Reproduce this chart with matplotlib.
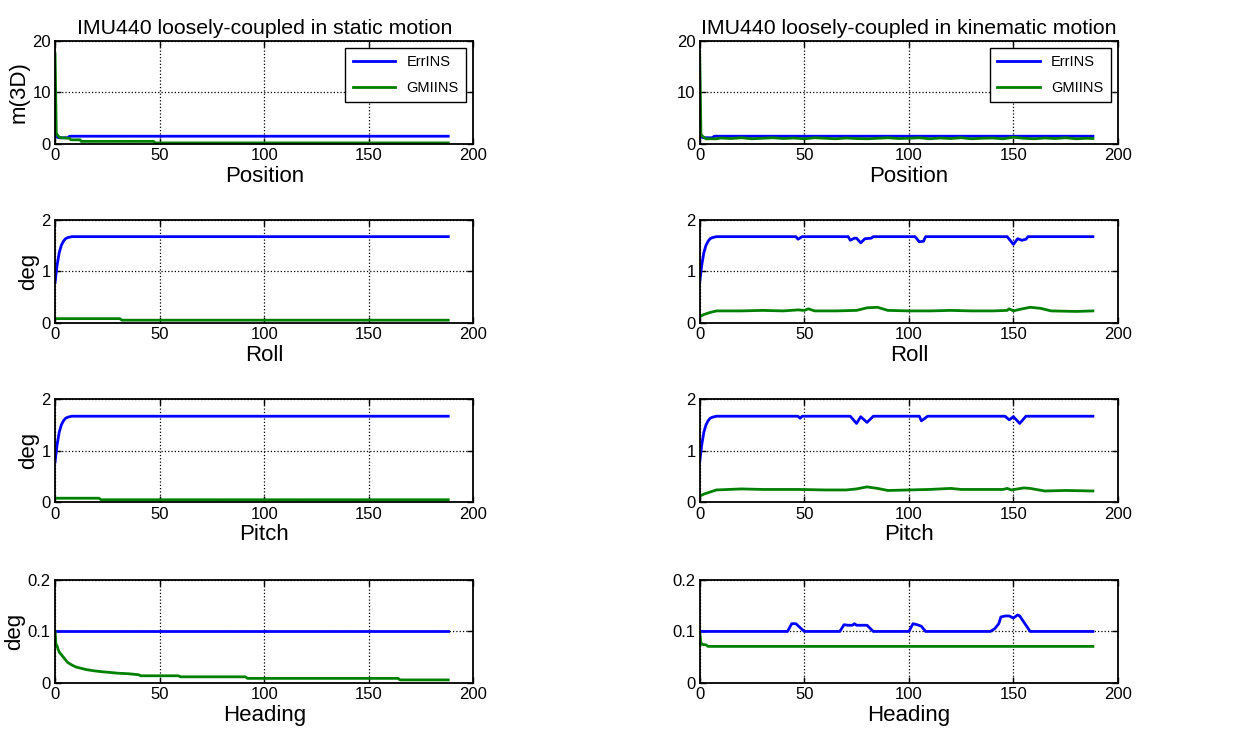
import numpy as np
import matplotlib
matplotlib.use('Agg')
import matplotlib.pyplot as plt

plt.rcParams['font.family'] = ['Liberation Sans', 'DejaVu Sans']

# ---- static motion ----
s_pos_x_err = [0, 0.5, 1, 2, 6, 7, 188]
s_pos_err = [1.5, 1.6, 1.3, 1.2, 1.2, 1.5, 1.5]
s_pos_x_gm = [0, 0.3, 0.6, 1, 2, 3, 7, 7.5, 12, 12.5, 47, 48, 188]
s_pos_gm = [17.5, 10, 2.2, 1.8, 1.3, 1.2, 1.1, 0.8, 0.8, 0.5, 0.5, 0.2, 0.2]

att_x_err = [0, 1, 2, 3, 4, 5, 6, 7, 8, 188]
s_roll_err = [0.78, 1.12, 1.36, 1.5, 1.58, 1.63, 1.65, 1.66, 1.67, 1.67]
s_roll_x_gm = [0, 31, 32, 188]
s_roll_gm = [0.08, 0.08, 0.05, 0.05]
s_pitch_err = [0.78, 1.12, 1.36, 1.5, 1.58, 1.63, 1.65, 1.66, 1.67, 1.67]
s_pitch_x_gm = [0, 21, 22, 188]
s_pitch_gm = [0.08, 0.08, 0.05, 0.05]

s_head_x_err = [0, 188]
s_head_err = [0.1, 0.1]
s_head_x_gm = [0, 0.5, 1, 1.5, 2, 3, 4, 5, 6, 8, 10, 12, 15, 18, 22, 25, 30,
               35, 40, 41, 59, 60, 91, 92, 164, 165, 188]
s_head_gm = [0.1, 0.072, 0.072, 0.065, 0.06, 0.055, 0.05, 0.045, 0.04, 0.035,
             0.031, 0.029, 0.026, 0.024, 0.022, 0.021, 0.019, 0.018, 0.016,
             0.014, 0.014, 0.012, 0.012, 0.009, 0.009, 0.006, 0.006]

# ---- kinematic motion ----
k_pos_x_err = [0, 0.5, 1, 2, 6, 7, 188]
k_pos_err = [1.5, 1.6, 1.3, 1.2, 1.2, 1.5, 1.5]
k_pos_x_gm = [0, 0.3, 0.6, 1, 2, 3, 8, 10, 15, 20, 25, 30, 35, 40, 45, 50, 55,
              60, 65, 70, 75, 80, 85, 90, 95, 100, 105, 110, 115, 120, 125, 130,
              135, 140, 145, 150, 155, 160, 165, 170, 175, 180, 185, 188]
k_pos_gm = [17.5, 10, 2.0, 1.6, 1.3, 1.0, 1.0, 1.15, 1.05, 1.2, 1.0, 1.1, 1.2,
            1.05, 1.15, 1.0, 1.2, 1.1, 1.0, 1.15, 1.05, 1.0, 1.1, 1.2, 1.05,
            1.1, 1.2, 1.0, 1.15, 1.05, 1.2, 1.0, 1.1, 1.15, 1.0, 1.3, 1.1, 1.0,
            1.15, 1.05, 1.2, 1.0, 1.1, 1.05]

k_roll_x_err = [0, 1, 2, 3, 4, 5, 6, 7, 8, 46, 47, 49, 71, 72, 74, 75, 77, 79,
                82, 83, 103, 105, 107, 108, 147, 150, 152, 154, 156, 157, 188]
k_roll_err = [0.78, 1.12, 1.36, 1.5, 1.58, 1.63, 1.65, 1.66, 1.67, 1.67, 1.62,
              1.67, 1.67, 1.6, 1.64, 1.64, 1.55, 1.63, 1.64, 1.67, 1.67, 1.57,
              1.58, 1.67, 1.67, 1.52, 1.63, 1.6, 1.62, 1.67, 1.67]
k_roll_x_gm = [0, 2, 5, 8, 20, 30, 40, 47, 50, 52, 55, 65, 75, 80, 85, 90, 100,
               110, 120, 130, 140, 147, 148, 150, 153, 158, 163, 168, 180, 188]
k_roll_gm = [0.12, 0.16, 0.2, 0.23, 0.23, 0.24, 0.23, 0.25, 0.24, 0.27, 0.23,
             0.23, 0.24, 0.29, 0.3, 0.24, 0.23, 0.23, 0.24, 0.23, 0.23, 0.24,
             0.27, 0.23, 0.26, 0.3, 0.28, 0.23, 0.22, 0.23]

k_pitch_x_err = [0, 1, 2, 3, 4, 5, 6, 7, 8, 47, 48, 49, 72, 75, 77, 80, 83,
                 105, 106, 109, 146, 148, 150, 153, 156, 188]
k_pitch_err = [0.78, 1.12, 1.36, 1.5, 1.58, 1.63, 1.65, 1.66, 1.67, 1.67, 1.63,
               1.67, 1.67, 1.53, 1.66, 1.55, 1.67, 1.67, 1.58, 1.67, 1.67, 1.6,
               1.66, 1.53, 1.67, 1.67]
k_pitch_x_gm = [0, 2, 5, 8, 20, 30, 47, 60, 70, 75, 80, 85, 90, 100, 110, 120,
                125, 135, 145, 147, 149, 155, 158, 165, 175, 188]
k_pitch_gm = [0.12, 0.16, 0.2, 0.24, 0.26, 0.25, 0.25, 0.24, 0.24, 0.26, 0.3,
              0.27, 0.23, 0.24, 0.25, 0.27, 0.25, 0.25, 0.25, 0.27, 0.24, 0.28,
              0.27, 0.22, 0.23, 0.22]

k_head_x_err = [0, 42, 44, 46, 50, 67, 69, 71, 73, 74, 75, 80, 83, 100, 102,
                104, 106, 108, 139, 141, 143, 144, 146, 148, 150, 152, 153, 155,
                158, 188]
k_head_err = [0.1, 0.1, 0.115, 0.115, 0.1, 0.1, 0.113, 0.112, 0.112, 0.115,
              0.112, 0.112, 0.1, 0.1, 0.115, 0.113, 0.11, 0.1, 0.1, 0.105,
              0.115, 0.128, 0.13, 0.13, 0.126, 0.132, 0.13, 0.118, 0.1, 0.1]
k_head_x_gm = [0, 0.5, 1, 3, 4, 188]
k_head_gm = [0.1, 0.08, 0.075, 0.074, 0.071, 0.071]

xlabels = ['Position', 'Roll', 'Pitch', 'Heading']
ylabels = ['m(3D)', 'deg', 'deg', 'deg']
yticks = [[0, 10, 20], [0, 1, 2], [0, 1, 2], [0, 0.1, 0.2]]
yticklabels = [['0', '10', '20'], ['0', '1', '2'], ['0', '1', '2'], ['0', '0.1', '0.2']]
titles = ['IMU440 loosely-coupled in static motion',
          'IMU440 loosely-coupled in kinematic motion']

static = [(s_pos_x_err, s_pos_err, s_pos_x_gm, s_pos_gm),
          (att_x_err, s_roll_err, s_roll_x_gm, s_roll_gm),
          (att_x_err, s_pitch_err, s_pitch_x_gm, s_pitch_gm),
          (s_head_x_err, s_head_err, s_head_x_gm, s_head_gm)]
kinem = [(k_pos_x_err, k_pos_err, k_pos_x_gm, k_pos_gm),
         (k_roll_x_err, k_roll_err, k_roll_x_gm, k_roll_gm),
         (k_pitch_x_err, k_pitch_err, k_pitch_x_gm, k_pitch_gm),
         (k_head_x_err, k_head_err, k_head_x_gm, k_head_gm)]

blue = (0, 0, 1)
green = (0, 0.5, 0)

fig = plt.figure(figsize=(12.34, 7.42), dpi=100)
lefts = [0.0446, 0.567]
bottoms = [0.806, 0.565, 0.323, 0.0795]
w, h = 0.339, 0.139

for col, data in enumerate([static, kinem]):
    for row in range(4):
        ax = fig.add_axes([lefts[col], bottoms[row], w, h])
        xe, ye, xg, yg = data[row]
        ax.plot(xe, ye, color=blue, lw=2, label='ErrINS')
        ax.plot(xg, yg, color=green, lw=2, label='GMIINS')
        ax.set_xlim(0, 200)
        ax.set_ylim(yticks[row][0], yticks[row][-1])
        ax.set_xticks([0, 50, 100, 150, 200])
        ax.set_yticks(yticks[row])
        ax.set_yticklabels(yticklabels[row])
        ax.tick_params(direction='in', top=True, right=True, labelsize=12,
                       length=4, width=1, pad=3)
        ax.grid(True, color='k', linestyle=':', linewidth=0.9)
        for sp in ax.spines.values():
            sp.set_linewidth(1.3)
        ax.set_xlabel(xlabels[row], fontsize=16, labelpad=2)
        if col == 0:
            ax.set_ylabel(ylabels[row], fontsize=16, labelpad=2)
        if row == 0:
            ax.set_title(titles[col], fontsize=15.3, pad=5)
            leg = ax.legend(loc='upper right', fontsize=10.5, fancybox=False,
                            framealpha=1, edgecolor='k', handlelength=2.9,
                            borderaxespad=0.5, labelspacing=0.8,
                            borderpad=0.5)
            leg.get_frame().set_linewidth(1.0)

fig.savefig('out.png', dpi=100)
